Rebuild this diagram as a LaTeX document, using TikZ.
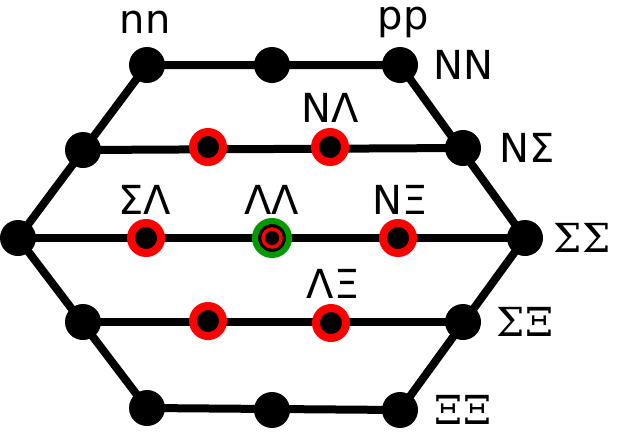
\documentclass[tikz,border=0pt]{standalone}
\usepackage{fontspec}
\setmainfont{DejaVu Sans}
\newfontfamily\serifg{DejaVu Serif}
\begin{document}
\begin{tikzpicture}[x=1pt,y=-1pt,
  bd/.style={circle,fill=black,inner sep=0pt,minimum size=36pt},
  rd/.style={circle,fill=black,draw=red,line width=8pt,inner sep=0pt,minimum size=30pt},
  gd/.style={circle,fill=black,draw=red,line width=5pt,inner sep=0pt,minimum size=22pt},
  ln/.style={line width=8pt},
  lb/.style={font=\fontsize{40}{40}\selectfont,inner sep=0pt}]
\useasboundingbox (0,0) rectangle (624,440);
\coordinate (a1) at (147,65); \coordinate (a2) at (272,65); \coordinate (a3) at (400,65);
\coordinate (b1) at (83,150); \coordinate (b2) at (208,147); \coordinate (b3) at (330,147); \coordinate (b4) at (463,148);
\coordinate (c1) at (18,238); \coordinate (c2) at (146,238); \coordinate (c3) at (272,238); \coordinate (c4) at (398,238); \coordinate (c5) at (525,238);
\coordinate (d1) at (83,322); \coordinate (d2) at (208,321); \coordinate (d3) at (331,323); \coordinate (d4) at (463,322);
\coordinate (e1) at (147,408); \coordinate (e2) at (272,410); \coordinate (e3) at (400,410);
\draw[ln] (a1)--(a3)--(c5)--(e3)--(e1)--(c1)--cycle;
\draw[ln] (b1)--(b4); \draw[ln] (c1)--(c5); \draw[ln] (d1)--(d4);
\foreach \p in {a1,a2,a3,b1,b4,c1,c5,d1,d4,e1,e2,e3} \node[bd] at (\p) {};
\foreach \p in {b2,b3,c2,c4,d2,d3} \node[rd] at (\p) {};
\node[circle,fill=black,draw=green!60!black,line width=6pt,inner sep=0pt,minimum size=34pt] (g) at (c3) {};
\node[circle,fill=black,draw=red,line width=3.5pt,inner sep=0pt,minimum size=18pt] at (c3) {};
\node[lb] at (145,22) {nn};
\node[lb] at (403,22) {pp};
\node[lb] at (463,65) {NN};
\node[lb] at (330,108) {NΛ};
\node[lb] at (527,148) {NΣ};
\node[lb] at (145,200) {ΣΛ};
\node[lb] at (272,200) {ΛΛ};
\node[lb] at (400,200) {NΞ};
\node[lb] at (333,284) {ΛΞ};
\node[lb,font=\serifg\fontsize{40}{40}\selectfont] at (582,238) {ΣΣ};
\node[lb,font=\serifg\fontsize{40}{40}\selectfont] at (525,322) {ΣΞ};
\node[lb,font=\serifg\fontsize{40}{40}\selectfont] at (463,410) {ΞΞ};
\end{tikzpicture}
\end{document}
